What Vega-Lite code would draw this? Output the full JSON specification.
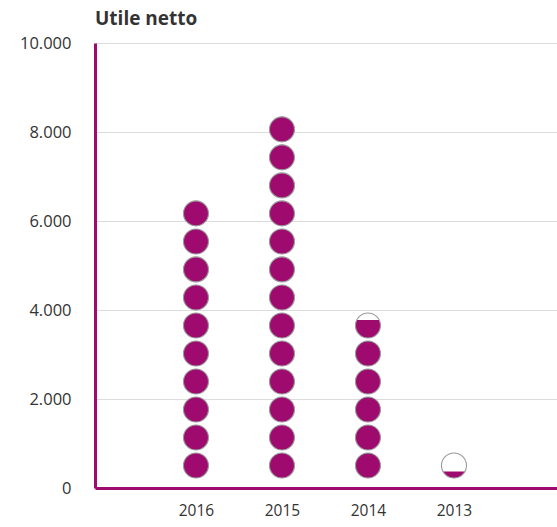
{
  "$schema": "https://vega.github.io/schema/vega-lite/v6.json",
  "width": 462,
  "height": 445,
  "autosize": {"type": "none"},
  "padding": {"left": 95, "top": 43, "right": 0, "bottom": 39},
  "background": "white",
  "title": {
    "text": "Utile netto",
    "anchor": "start",
    "frame": "group",
    "font": "Open Sans",
    "fontSize": 19,
    "fontWeight": "bold",
    "color": "#333333",
    "baseline": "alphabetic",
    "offset": -9
  },
  "data": {
    "values": [
      {"anno": 2016, "valore": 505, "quota": 1},
      {"anno": 2016, "valore": 1135, "quota": 1},
      {"anno": 2016, "valore": 1764, "quota": 1},
      {"anno": 2016, "valore": 2394, "quota": 1},
      {"anno": 2016, "valore": 3023, "quota": 1},
      {"anno": 2016, "valore": 3653, "quota": 1},
      {"anno": 2016, "valore": 4282, "quota": 1},
      {"anno": 2016, "valore": 4912, "quota": 1},
      {"anno": 2016, "valore": 5541, "quota": 1},
      {"anno": 2016, "valore": 6171, "quota": 1},
      {"anno": 2015, "valore": 505, "quota": 1},
      {"anno": 2015, "valore": 1135, "quota": 1},
      {"anno": 2015, "valore": 1764, "quota": 1},
      {"anno": 2015, "valore": 2394, "quota": 1},
      {"anno": 2015, "valore": 3023, "quota": 1},
      {"anno": 2015, "valore": 3653, "quota": 1},
      {"anno": 2015, "valore": 4282, "quota": 1},
      {"anno": 2015, "valore": 4912, "quota": 1},
      {"anno": 2015, "valore": 5541, "quota": 1},
      {"anno": 2015, "valore": 6171, "quota": 1},
      {"anno": 2015, "valore": 6800, "quota": 1},
      {"anno": 2015, "valore": 7430, "quota": 1},
      {"anno": 2015, "valore": 8059, "quota": 1},
      {"anno": 2014, "valore": 505, "quota": 1},
      {"anno": 2014, "valore": 1135, "quota": 1},
      {"anno": 2014, "valore": 1764, "quota": 1},
      {"anno": 2014, "valore": 2394, "quota": 1},
      {"anno": 2014, "valore": 3023, "quota": 1},
      {"anno": 2014, "valore": 3653, "quota": 0.72},
      {"anno": 2013, "valore": 505, "quota": 0.26}
    ]
  },
  "encoding": {
    "x": {
      "field": "anno",
      "type": "quantitative",
      "scale": {"domain": [2017.174, 2011.802], "nice": false, "zero": false},
      "axis": {
        "title": null,
        "values": [2016, 2015, 2014, 2013],
        "format": "d",
        "labelAngle": 0,
        "ticks": false,
        "grid": false,
        "domainColor": "#9e0a6e",
        "domainWidth": 3,
        "labelPadding": 15,
        "labelFlush": false,
        "labelFont": "Open Sans",
        "labelFontSize": 15.5,
        "labelColor": "#333333"
      }
    },
    "y": {
      "field": "valore",
      "type": "quantitative",
      "scale": {"domain": [0, 10000], "nice": false},
      "axis": {
        "title": null,
        "values": [0, 2000, 4000, 6000, 8000, 10000],
        "labelExpr": "replace(format(datum.value, ','), ',', '.')",
        "ticks": false,
        "grid": true,
        "gridColor": "#dcdcdc",
        "gridWidth": 1,
        "domainColor": "#9e0a6e",
        "domainWidth": 3,
        "labelPadding": 24,
        "labelFlush": false,
        "labelFont": "Open Sans",
        "labelFontSize": 16.5,
        "labelColor": "#333333"
      }
    }
  },
  "layer": [
    {
      "mark": {"type": "point", "shape": "circle", "filled": true, "fill": "white", "fillOpacity": 1, "strokeWidth": 0, "size": 625}
    },
    {
      "mark": {"type": "point", "filled": true, "fill": "#9e0a6e", "fillOpacity": 1, "strokeWidth": 0, "size": 625},
      "encoding": {
        "shape": {
          "field": "quota",
          "type": "nominal",
          "legend": null,
          "scale": {
            "domain": [1, 0.72, 0.26],
            "range": [
              "circle",
              "M -0.898 -0.44 A 1 1 0 1 0 0.898 -0.44 Z",
              "M -0.877 0.48 A 1 1 0 0 0 0.877 0.48 Z"
            ]
          }
        }
      }
    },
    {
      "mark": {"type": "point", "shape": "circle", "filled": false, "stroke": "#999999", "strokeWidth": 1.1, "opacity": 1, "size": 625}
    }
  ],
  "config": {
    "view": {"stroke": null}
  }
}
